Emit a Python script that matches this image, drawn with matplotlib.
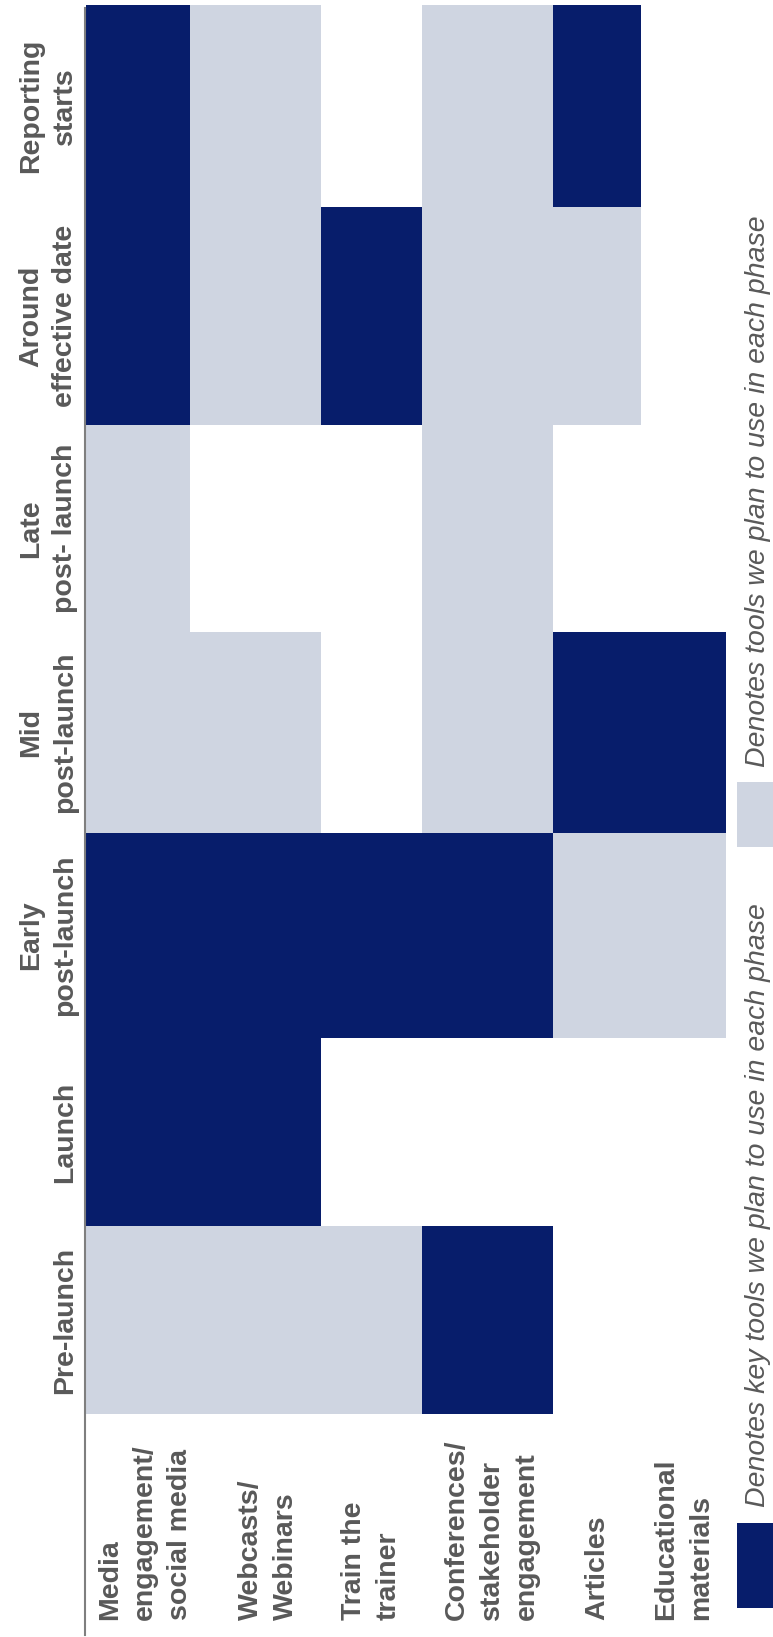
import numpy as np
import matplotlib.pyplot as plt
from matplotlib.colors import ListedColormap
from matplotlib.lines import Line2D
from matplotlib.patches import Rectangle

plt.rcParams['font.family'] = ['Liberation Sans', 'DejaVu Sans']

# Phases, bottom to top
phases = ['Pre-launch', 'Launch', 'Early\npost-launch', 'Mid\npost-launch',
          'Late\npost- launch', 'Around\neffective date', 'Reporting\nstarts']
tools = ['Media\nengagement/\nsocial media', 'Webcasts/\nWebinars', 'Train the\ntrainer',
         'Conferences/\nstakeholder\nengagement', 'Articles', 'Educational\nmaterials']

# 0 = not used, 1 = tool we plan to use, 2 = key tool (per phase, bottom to top)
media = [1, 2, 2, 1, 1, 2, 2]
webcasts = [1, 2, 2, 1, 0, 1, 1]
train = [1, 0, 2, 0, 0, 2, 0]
conferences = [2, 0, 2, 1, 1, 1, 1]
articles = [0, 0, 1, 2, 0, 1, 2]
educational = [0, 0, 1, 2, 0, 0, 0]

legend_labels = ['Denotes key tools we plan to use in each phase',
                 'Denotes tools we plan to use in each phase']

DARK = '#071d6b'
LIGHT = '#cfd5e1'
TEXT = '#595959'

# layout (pixels)
W, H = 773, 1637
col_widths = [104.3, 131, 101, 131.4, 88, 85]
row_heights = [188, 188, 205, 201, 207, 218, 202]  # bottom to top
label_dx = [7, 13, 0, 4, 0, 0]  # small nudges of the tool labels
x0, y_top = 85.5, 5

fig = plt.figure(figsize=(W / 100, H / 100), dpi=100)
cw, rh = sum(col_widths), sum(row_heights)
ax = fig.add_axes([x0 / W, 1 - (y_top + rh) / H, cw / W, rh / H])

xe = np.concatenate([[0], np.cumsum(col_widths)])
ye = np.concatenate([[0], np.cumsum(row_heights)])
grid = np.array([media, webcasts, train, conferences, articles, educational]).T
ax.pcolormesh(xe, ye, np.ma.masked_equal(grid, 0), cmap=ListedColormap([LIGHT, DARK]),
              vmin=0.5, vmax=2.5, edgecolors='none')
ax.set_xlim(0, cw)
ax.set_ylim(0, rh)
ax.axis('off')

# vertical axis line
fig.add_artist(Line2D([85 / W, 85 / W], [1 - 8 / H, 1 - 1635 / H],
                      color='#7f7f7f', lw=1.5, zorder=5))

# phase labels
for i, p in enumerate(phases):
    yc = (ye[i] + ye[i + 1]) / 2
    yf = 1 - (y_top + rh - yc) / H
    fig.text(78 / W, yf, p, rotation=90, ha='right', va='center', multialignment='center',
             fontsize=20.5, fontweight='bold', color=TEXT, linespacing=1.38)

# tool labels
for j, t in enumerate(tools):
    xc = x0 + (xe[j] + xe[j + 1]) / 2 + label_dx[j]
    fig.text(xc / W, 17 / H, t, rotation=90, ha='center', va='bottom', multialignment='left',
             fontsize=20.5, fontweight='bold', color=TEXT, linespacing=1.45)

# legend
fig.add_artist(Rectangle((737 / W, 1 - 1608 / H), 45 / W, 85 / H, transform=fig.transFigure,
                         facecolor=DARK, edgecolor='none'))
fig.text(771 / W, 1 - 1507 / H, legend_labels[0], rotation=90, ha='right', va='bottom',
         fontsize=20.5, fontstyle='italic', color=TEXT)
fig.add_artist(Rectangle((737 / W, 1 - 847 / H), 45 / W, 65 / H, transform=fig.transFigure,
                         facecolor=LIGHT, edgecolor='none'))
fig.text(771 / W, 1 - 767 / H, legend_labels[1], rotation=90, ha='right', va='bottom',
         fontsize=20.5, fontstyle='italic', color=TEXT)

fig.savefig('out.png', dpi=100)
